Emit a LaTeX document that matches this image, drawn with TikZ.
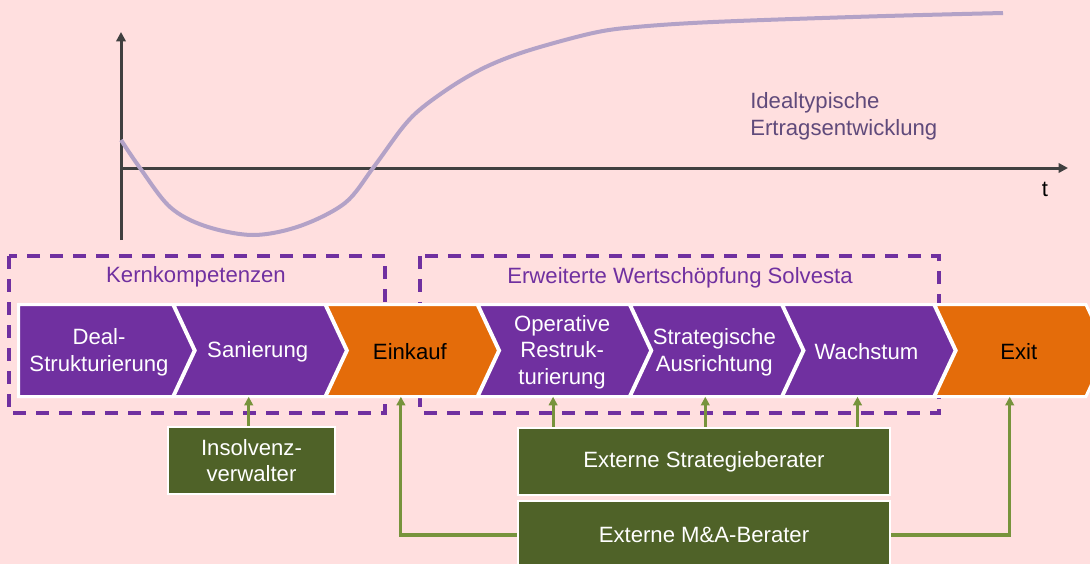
\documentclass[tikz,border=0pt]{standalone}
\usepackage{fontspec}
\setmainfont{Liberation Sans}
\usetikzlibrary{arrows.meta,calc}
\definecolor{bgpink}{HTML}{FFDFDF}
\definecolor{vpurple}{HTML}{7030A0}
\definecolor{vorange}{HTML}{E46C0A}
\definecolor{vgreen}{HTML}{4F6228}
\definecolor{agreen}{HTML}{77933C}
\definecolor{axgray}{HTML}{404040}
\definecolor{lav}{HTML}{B3A2C7}
\definecolor{lbl}{HTML}{604A7B}
\newcommand\myfs{\fontsize{16.6}{20}\selectfont}
\tikzset{
  chevp/.style={fill=vpurple, draw=white, line width=2.25pt, line join=miter},
  chevo/.style={fill=vorange, draw=white, line width=2.25pt, line join=miter},
  chevtxt/.style={text=white, align=center, minimum height=69pt, inner sep=0pt, font=\myfs},
  chevtxtb/.style={chevtxt, text=black},
  dbox/.style={draw=vpurple, line width=2.5pt, dash pattern=on 9.75pt off 7.5pt},
  dlabel/.style={text=vpurple, font=\myfs, anchor=base, inner sep=0pt},
  gbox/.style={fill=vgreen, draw=white, line width=2pt, text=white, align=center, font=\myfs, inner sep=0pt, minimum height=50.25pt},
  garrow/.style={draw=agreen, line width=2.3pt, -{Triangle[width=6.4pt,length=6.4pt]}},
  axis/.style={draw=axgray, line width=2.25pt, -{Triangle[width=7pt,length=7pt]}},
  curve/.style={draw=lav, line width=3pt},
}
\begin{document}
\begin{tikzpicture}[x=0.75pt,y=-0.75pt]
\useasboundingbox (0,0) rectangle (1090,564);
\clip (0,0) rectangle (1090,564);
\fill[bgpink] (0,0) rectangle (1090,564);

% axes and curve
\coordinate (ybot) at (121,240);
\coordinate (ytop) at (121,32);
\coordinate (xl) at (121,168);
\coordinate (xr) at (1068,168);
\draw[axis] (ybot) -- (ytop);
\draw[axis] (xl) -- (xr);
\draw[curve] plot[smooth, tension=0.55] coordinates {(121,140) (140,168) (170,207) (205,226) (253,235) (300,226) (345,203) (373,168) (403,127) (423,107) (457,83) (490,65) (530,50) (593,33) (636,27) (713,22) (869,16.5) (1003,13)};
\node[text=lbl, font=\myfs, align=left, anchor=west, inner sep=0pt] (lab) at (750,116.5) {Idealtypische\\Ertragsentwicklung};
\node[font=\myfs, inner sep=0pt] (tlab) at (1045,189) {t};

% dashed boxes
\draw[dbox] (9,256) rectangle (385,413);
\draw[dbox] (420,256) rectangle (939,413);
\node[dlabel] (kk) at (196,282) {Kernkompetenzen};
\node[dlabel] (ew) at (680,283) {Erweiterte Wertschöpfung Solvesta};

% chevrons
\path[chevp] (18.7,304.5) -- (172.7,304.5) -- (194.2,350.5) -- (172.7,396.5) -- (18.7,396.5) -- cycle;
\foreach \L/\st in {173.7/chevp, 325.9/chevo, 478.1/chevp, 630.3/chevp, 782.5/chevp, 934.7/chevo}{
  \path[\st] (\L,304.5) -- ({\L+151.2},304.5) -- ({\L+172.7},350.5) -- ({\L+151.2},396.5) -- (\L,396.5) -- ({\L+21.5},350.5) -- cycle;
}
\node[chevtxt] (c1) at (99,352) {Deal-\\Strukturierung};
\node[chevtxt] (c2) at (257.7,352) {Sanierung};
\node[chevtxtb] (c3) at (409.9,352) {Einkauf};
\node[chevtxt] (c4) at (562.1,352) {Operative\\Restruk-\\turierung};
\node[chevtxt] (c5) at (714.3,352) {Strategische\\Ausrichtung};
\node[chevtxt] (c6) at (866.5,352) {Wachstum};
\node[chevtxtb] (c7) at (1018.7,352) {Exit};

% arrow targets
\coordinate (a2) at ($(c2.south)+(-9,-1.5)$);
\coordinate (a3) at ($(c3.south)+(-9,-1.5)$);
\coordinate (a4) at ($(c4.south)+(-9,-1.5)$);
\coordinate (a5) at ($(c5.south)+(-9,-1.5)$);
\coordinate (a6) at ($(c6.south)+(-9,-1.5)$);
\coordinate (a7) at ($(c7.south)+(-9,-1.5)$);

% green boxes
\node[gbox, minimum width=125.25pt] (ins) at (251.5,460.5) {Insolvenz-\\verwalter};
\node[gbox, minimum width=279pt] (strat) at (704,461.5) {Externe Strategieberater};
\node[gbox, minimum width=279pt, minimum height=51pt] (ma) at (704,535) {Externe M\&A-Berater};

% arrows
\draw[garrow] (a2 |- ins.north) -- (a2);
\draw[garrow] (a4 |- strat.north) -- (a4);
\draw[garrow] (a5 |- strat.north) -- (a5);
\draw[garrow] (a6 |- strat.north) -- (a6);
\draw[garrow] (ma.west) -| (a3);
\draw[garrow] (ma.east) -| (a7);
\end{tikzpicture}
\end{document}
